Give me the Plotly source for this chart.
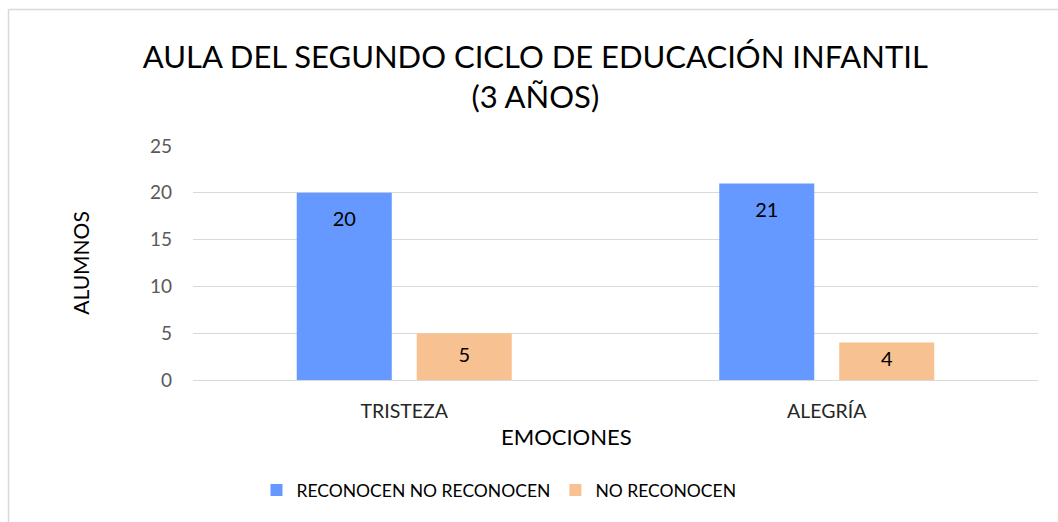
import plotly.graph_objects as go

categories = ["TRISTEZA", "ALEGRÍA"]
reconocen = [20, 21]
no_reconocen = [5, 4]
series_names = ["RECONOCEN NO RECONOCEN", "NO RECONOCEN"]
y_ticks = [0, 5, 10, 15, 20, 25]

FONT = "Lato"
W, H = 1058, 522
L, R, T, B = 193, 20, 146, 142
BARGAP = 0.432

fig = go.Figure()
fig.add_trace(go.Bar(
    x=categories, y=reconocen, name=series_names[0],
    marker=dict(color="#6699FF", line=dict(width=0)),
))
fig.add_trace(go.Bar(
    x=categories, y=no_reconocen, name=series_names[1],
    marker=dict(color="#F8C191", line=dict(width=0)),
))


# data labels placed "inside end" like the original (pushed down from the bar top,
# but never below the bar's middle)
def label_y(vals, inset=3.0):
    return [max(v - inset, v / 2) for v in vals]


for vals in (reconocen, no_reconocen):
    fig.add_trace(go.Scatter(
        x=categories, y=label_y(vals), mode="text", orientation="v",
        text=[str(v) for v in vals], textposition="middle center",
        textfont=dict(family=FONT, size=20, color="black"),
        showlegend=False, hoverinfo="skip",
    ))

pw = W - L - R
ph = H - T - B


def px_to_paper_x(px):
    return (px - L) / pw


def px_to_paper_y(py):
    return (H - B - py) / ph


shapes = [
    dict(type="line", xref="paper", yref="paper",
         x0=px_to_paper_x(8.5), x1=px_to_paper_x(8.5),
         y0=px_to_paper_y(9.5), y1=px_to_paper_y(H + 5),
         line=dict(color="#D9D9D9", width=1.5)),
    dict(type="line", xref="paper", yref="paper",
         x0=px_to_paper_x(8.5), x1=px_to_paper_x(W + 5),
         y0=px_to_paper_y(9.5), y1=px_to_paper_y(9.5),
         line=dict(color="#D9D9D9", width=1.5)),
]

annotations = [
    dict(text="EMOCIONES", xref="paper", yref="paper",
         x=px_to_paper_x(566.5), y=px_to_paper_y(436),
         xanchor="center", yanchor="middle", showarrow=False,
         font=dict(family=FONT, size=22, color="black")),
]

fig.update_layout(
    width=W, height=H,
    margin=dict(l=L, r=R, t=T, b=B, autoexpand=False),
    paper_bgcolor="white", plot_bgcolor="white",
    font=dict(family=FONT, color="#595959"),
    barmode="group", bargap=BARGAP, bargroupgap=0.208,
    scattermode="group", scattergap=BARGAP,
    title=dict(
        text="AULA DEL SEGUNDO CICLO DE EDUCACIÓN INFANTIL<br>(3 AÑOS)",
        font=dict(family=FONT, size=31, color="black"),
        x=0.506, xanchor="center", xref="container",
        y=1 - 68 / H, yanchor="middle", yref="container",
    ),
    xaxis=dict(
        showgrid=False, showline=True, linecolor="#D9D9D9", linewidth=1,
        ticks="", tickfont=dict(family=FONT, size=19.5, color="#262626"),
        ticklabelstandoff=14, automargin=False,
    ),
    yaxis=dict(
        range=[0, 25], tickvals=y_ticks, showgrid=True, gridcolor="#D9D9D9",
        gridwidth=1, zeroline=False, showline=False, ticks="",
        tickfont=dict(family=FONT, size=19, color="#595959"), ticklabelstandoff=20,
        title=dict(text="ALUMNOS", font=dict(family=FONT, size=21, color="black"),
                   standoff=54),
        automargin=False,
    ),
    legend=dict(
        orientation="h", x=px_to_paper_x(499), xanchor="center",
        y=px_to_paper_y(472), yanchor="top",
        font=dict(family=FONT, size=17.5, color="black"),
        bgcolor="rgba(0,0,0,0)",
    ),
    shapes=shapes,
    annotations=annotations,
    showlegend=True,
)

fig.write_html("out.html", config={"displayModeBar": False},
               post_script="document.body.style.margin='0';")
